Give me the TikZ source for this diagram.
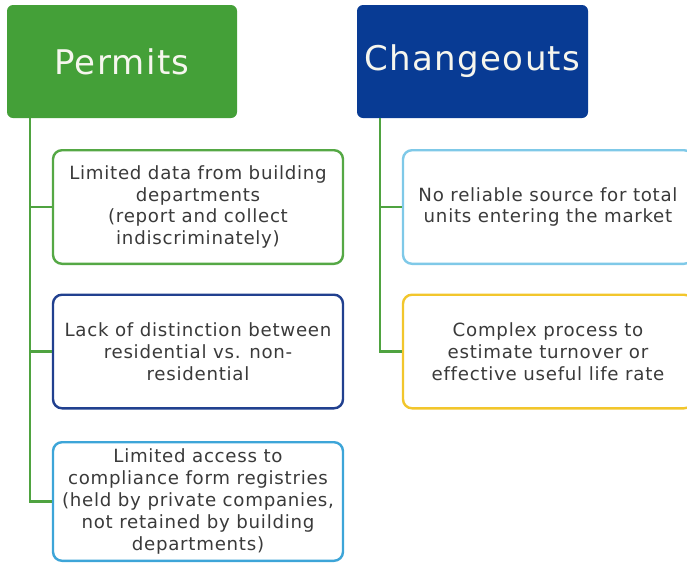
\documentclass[tikz,border=0pt]{standalone}
\usepackage{fontspec}
\setmainfont{DejaVu Sans}
\newfontfamily\headfont[LetterSpace=4,Ligatures=NoCommon]{DejaVu Sans}
\newfontfamily\bodyfont[LetterSpace=4,Ligatures=NoCommon]{DejaVu Sans}

\definecolor{permitgreen}{HTML}{44A038}
\definecolor{changenavy}{HTML}{083B94}
\definecolor{linkgreen}{HTML}{4FA340}
\definecolor{edgegreen}{HTML}{55A845}
\definecolor{edgenavy}{HTML}{21408F}
\definecolor{edgeblue}{HTML}{3DA5D8}
\definecolor{edgesky}{HTML}{7FC9E8}
\definecolor{edgeyellow}{HTML}{F2C62C}
\definecolor{headtext}{HTML}{F6F6EE}
\definecolor{bodytext}{HTML}{3A3A3A}

\tikzset{
  headbox/.style={rounded corners=6pt, minimum width=230pt, minimum height=113pt,
    inner sep=0pt, text=headtext, font=\headfont\fontsize{34}{40}\selectfont},
  itembox/.style={draw, line width=2.4pt, rounded corners=9pt, fill=white,
    minimum width=290pt, minimum height=113.6pt, inner sep=0pt, align=center,
    text=bodytext, font=\bodyfont\fontsize{18.2}{21.8}\selectfont},
  link/.style={draw=linkgreen, line width=2.6pt}
}

\begin{document}
\begin{tikzpicture}[x=1pt, y=-1pt]
  \useasboundingbox (0,0) rectangle (687,563);
  \clip (0,0) rectangle (687,563);

  % column headers
  \node[headbox, fill=permitgreen] (permits) at (122,61.5) {Permits};
  \node[headbox, fill=changenavy, minimum width=231pt] (changeouts) at (472.5,61.5) {Changeouts};

  % permit issues
  \node[itembox, draw=edgegreen] (p1) at (198,207)
    {Limited data from building\\departments\\(report and collect\\indiscriminately)};
  \node[itembox, draw=edgenavy] (p2) at (198,351.5)
    {Lack of distinction between\\residential vs. non-\\residential};
  \node[itembox, draw=edgeblue, minimum height=118.6pt] (p3) at (198,501.5)
    {Limited access to\\compliance form registries\\(held by private companies,\\not retained by building\\departments)};

  % changeout issues
  \node[itembox, draw=edgesky] (c1) at (548,207)
    {No reliable source for total\\units entering the market};
  \node[itembox, draw=edgeyellow] (c2) at (548,351.5)
    {Complex process to\\estimate turnover or\\effective useful life rate};

  % tree connectors
  \coordinate (proot) at ([xshift=-92pt]permits.south);
  \coordinate (croot) at ([xshift=-92.5pt]changeouts.south);
  \draw[link] (proot) |- (p1.west);
  \draw[link] (proot) |- (p2.west);
  \draw[link] (proot) |- (p3.west);
  \draw[link] (croot) |- (c1.west);
  \draw[link] (croot) |- (c2.west);
\end{tikzpicture}
\end{document}
